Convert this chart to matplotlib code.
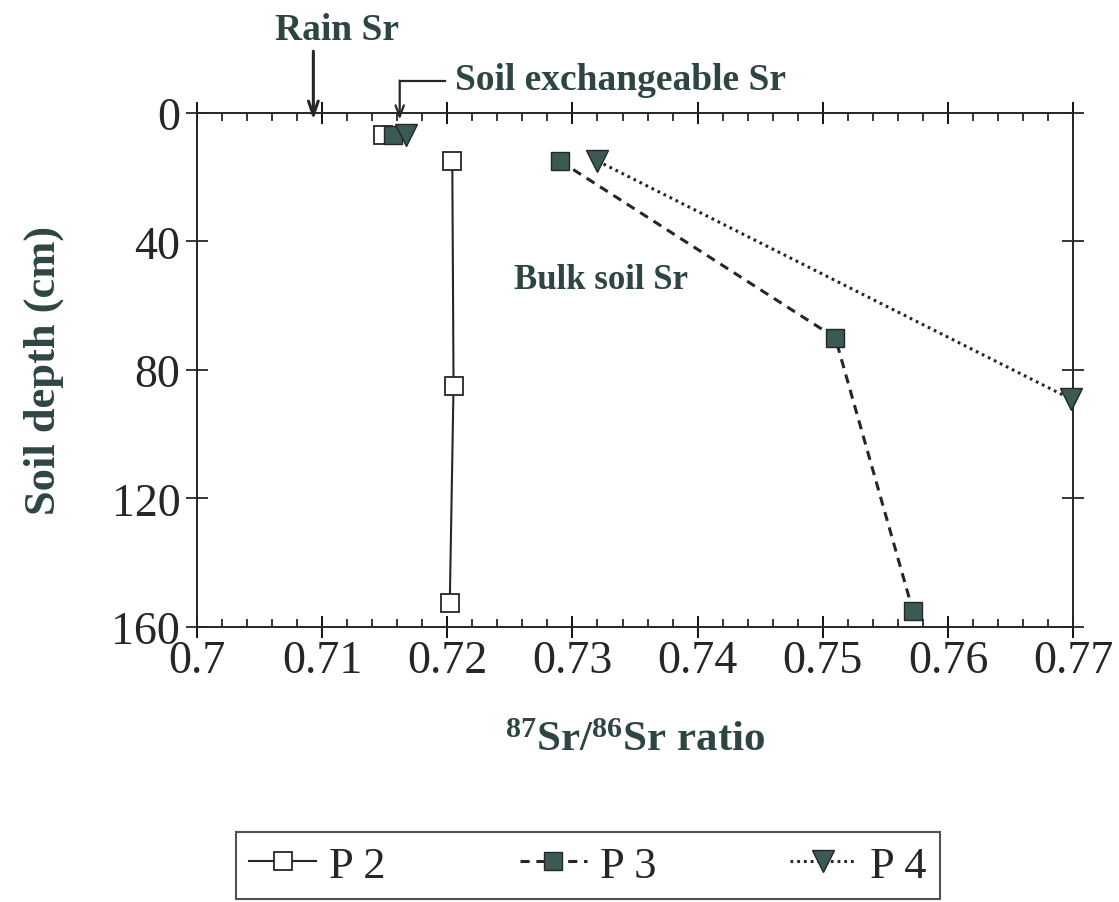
#!/usr/bin/env python3
"""Sr isotope ratio vs soil depth for three profiles (P 2, P 3, P 4)."""

import matplotlib

matplotlib.use("Agg")
import matplotlib.pyplot as plt  # noqa: E402
from matplotlib.ticker import MultipleLocator, FixedLocator  # noqa: E402

# --- data ---------------------------------------------------------------
rain_sr = 0.7093                      # rain 87Sr/86Sr
exch_depth = 7                        # depth of soil exchangeable Sr samples (cm)
p2_exch, p3_exch, p4_exch = 0.7149, 0.7157, 0.7167

p2_ratio = [0.7204, 0.7205, 0.7202]
p2_depth = [15, 85, 152.5]
p3_ratio = [0.7290, 0.7510, 0.7572]
p3_depth = [15, 70, 155]
p4_ratio = [0.7320, 0.7698]
p4_depth = [15, 89]

x_ticks = [0.7, 0.71, 0.72, 0.73, 0.74, 0.75, 0.76, 0.77]
x_tick_labels = ["0.7", "0.71", "0.72", "0.73", "0.74", "0.75", "0.76", "0.77"]
y_ticks = [0, 40, 80, 120, 160]

TXT = "#2e4643"
FILL = "#3b5955"
INK = "#262626"

plt.rcParams["font.family"] = ["Liberation Serif", "DejaVu Serif"]
plt.rcParams["mathtext.fontset"] = "custom"
plt.rcParams["mathtext.rm"] = "Liberation Serif:bold"
plt.rcParams["mathtext.it"] = "Liberation Serif:bold"
plt.rcParams["mathtext.bf"] = "Liberation Serif:bold"

fig = plt.figure(figsize=(11.19, 9.03), dpi=100)
ax = fig.add_axes([0.176, 0.3045, 0.783, 0.5695])

# exchangeable Sr (not connected)
ax.plot([p2_exch], [exch_depth], ls="none", marker="s", ms=13, mfc="white",
        mec=INK, mew=1.3, zorder=3, clip_on=False)
ax.plot([p3_exch], [exch_depth], ls="none", marker="s", ms=13, mfc=FILL,
        mec=INK, mew=1.0, zorder=4, clip_on=False)
ax.plot([p4_exch], [exch_depth], ls="none", marker="v", ms=16, mfc=FILL,
        mec=INK, mew=1.0, zorder=5, clip_on=False)

# bulk soil profiles
ax.plot(p2_ratio, p2_depth, color=INK, lw=1.5, ls="-", marker="s", ms=13,
        mfc="white", mec=INK, mew=1.3, label="P 2", clip_on=False, zorder=3)
ax.plot(p3_ratio, p3_depth, color=INK, lw=2.2, ls=(0, (3, 2.2)), marker="s", ms=13,
        mfc=FILL, mec=INK, mew=1.0, label="P 3", clip_on=False, zorder=3)
ax.plot(p4_ratio, p4_depth, color=INK, lw=2.2, ls=(0, (0.9, 1.3)), marker="v", ms=16,
        mfc=FILL, mec=INK, mew=1.0, label="P 4", clip_on=False, zorder=3)

ax.set_xlim(0.7, 0.77)
ax.set_ylim(160, 0)

ax.xaxis.set_major_locator(FixedLocator(x_ticks))
ax.set_xticklabels(x_tick_labels)
ax.xaxis.set_minor_locator(MultipleLocator(0.002))
ax.yaxis.set_major_locator(FixedLocator(y_ticks))

ax.tick_params(axis="x", which="major", direction="inout", length=16, width=1.3,
               top=True, bottom=True, labelsize=33, labelcolor=INK, pad=1)
ax.tick_params(axis="x", which="minor", direction="in", length=6, width=1.1,
               top=True, bottom=True)
ax.tick_params(axis="y", which="major", direction="inout", length=16, width=1.1,
               left=True, right=True, labelsize=33, labelcolor=INK, pad=4)
for sp in ax.spines.values():
    sp.set_linewidth(1.4)
    sp.set_color(INK)

ax.set_ylabel("Soil depth (cm)", fontsize=32, fontweight="bold", color=TXT, labelpad=34)
ax.set_xlabel("$^{87}$Sr/$^{86}$Sr ratio", fontsize=31, fontweight="bold", color=TXT,
              labelpad=28)

# annotations
ax.annotate("", xy=(rain_sr, 3), xytext=(rain_sr, -20),
            arrowprops=dict(arrowstyle="->,head_length=1.0,head_width=0.35",
                            color=INK, lw=2.2), annotation_clip=False)
ax.text(rain_sr + 0.0019, -26, "Rain Sr", fontsize=27, fontweight="bold", color=TXT,
        ha="center", va="center", clip_on=False)

exch_x = 0.7162
ax.annotate("", xy=(exch_x, 3), xytext=(exch_x, -10),
            arrowprops=dict(arrowstyle="->,head_length=0.8,head_width=0.3",
                            color=INK, lw=1.6, shrinkA=0), annotation_clip=False)
ax.plot([exch_x, 0.7198], [-10, -10], color=INK, lw=1.6, clip_on=False)
ax.text(0.7206, -10.5, "Soil exchangeable Sr", fontsize=27, fontweight="bold", color=TXT,
        ha="left", va="center", clip_on=False)

ax.text(0.7253, 52, "Bulk soil Sr", fontsize=25, fontweight="bold", color=TXT,
        ha="left", va="center")

leg = fig.legend(loc="lower left", bbox_to_anchor=(0.211, 0.0035, 0.629, 0.08),
                 mode="expand", ncol=3, fontsize=32, frameon=True, fancybox=False,
                 handlelength=1.5, handletextpad=0.3, borderpad=0.3,
                 borderaxespad=0, columnspacing=1.0)
leg.get_frame().set_edgecolor(INK)
leg.get_frame().set_linewidth(1.5)
for t in leg.get_texts():
    t.set_color(INK)

fig.savefig("out.png", dpi=100)
